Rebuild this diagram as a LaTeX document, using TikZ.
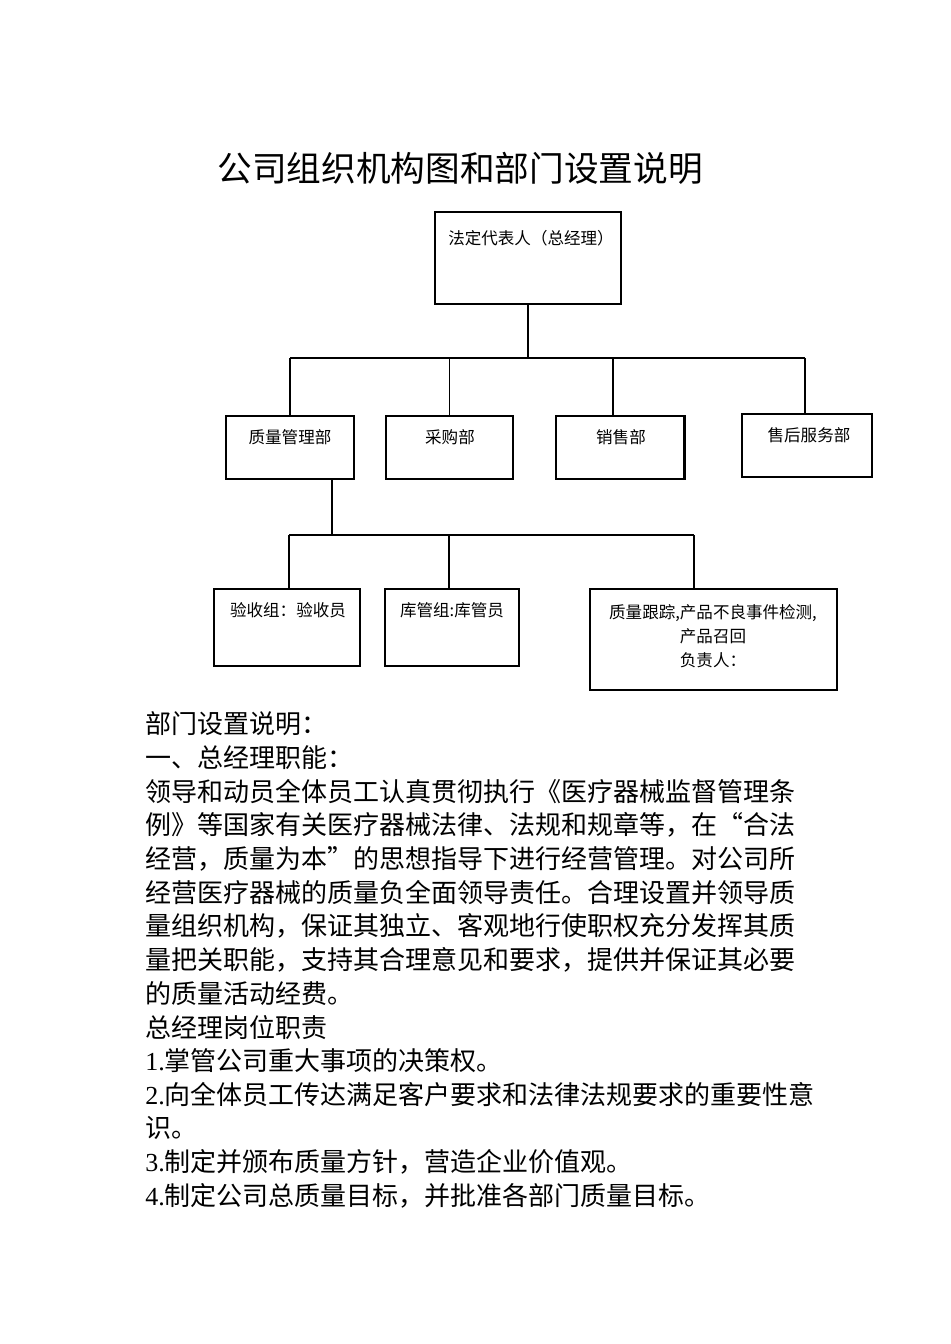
\documentclass[tikz,border=0pt]{standalone}
\usepackage{fontspec}
\setmainfont{Liberation Serif}
\newfontfamily\cjk{Noto Sans CJK SC}
\usepackage{tikz}
\usetikzlibrary{fit, positioning}

\begin{document}
\begin{tikzpicture}[x=0.75pt, y=-0.75pt,
    box/.style={draw, line width=1pt, inner sep=0pt},
    boxtext/.style={font=\cjk\fontsize{12.4}{18}\selectfont, align=center, inner sep=0pt},
    body/.style={anchor=west, font=\cjk\fontsize{19.5}{25}\selectfont, inner sep=0pt},
    link/.style={line width=1pt}]
    \useasboundingbox (0,0) rectangle (950,1344);

    % Title
    \node[font=\cjk\fontsize{26}{30}\selectfont, inner sep=0pt] (title) at (460,168) {公司组织机构图和部门设置说明};

    % General manager
    \node[box, fit={(435,212) (621,304)}] (ceo) {};
    \node[boxtext] (ceo-t) at (531,238) {法定代表人（总经理）};

    % Departments
    \node[box, fit={(226,416) (354,479)}] (qa) {};
    \node[box, fit={(386,416) (513,479)}] (buy) {};
    \node[box, fit={(556,416) (684,479)}] (sales) {};
    \node[box, fit={(742,414) (872,477)}] (service) {};
    \draw[line width=2.2pt] (sales.north east) -- (sales.south east);
    \node[boxtext] (qa-t) at (290,437) {质量管理部};
    \node[boxtext] (buy-t) at (450,437) {采购部};
    \node[boxtext] (sales-t) at (621,437) {销售部};
    \node[boxtext] (service-t) at (809,435) {售后服务部};

    % Department bus
    \coordinate (busL) at (290,358);
    \coordinate (busR) at (805,358);
    \coordinate (salesIn) at (613,358);
    \draw[link] (busL) -- (busR);
    \draw[link] (ceo.south) -- (ceo.south |- busL);
    \draw[link] (qa.north) -- (qa.north |- busL);
    \draw[link] (buy.north) -- (buy.north |- busL);
    \draw[link] (salesIn) -- (salesIn |- sales.north);
    \draw[link] (busR) -- (busR |- service.north);

    % Quality groups
    \node[box, fit={(214,589) (360,666)}] (recv) {};
    \node[box, fit={(385,589) (519,666)}] (store) {};
    \node[box, fit={(590,589) (837,690)}] (track) {};
    \node[boxtext] (recv-t) at (288,610) {验收组：验收员};
    \node[boxtext] (store-t) at (452,610) {库管组:库管员};
    \node[boxtext] (track-t) at (713,636) {质量跟踪,产品不良事件检测,\\产品召回\\负责人：};

    % Group bus
    \coordinate (sub) at (332,535);
    \coordinate (subL) at (289,535);
    \coordinate (subM) at (449,535);
    \coordinate (subR) at (694,535);
    \draw[link] (sub |- qa.south) -- (sub);
    \draw[link] (subL) -- (subR);
    \draw[link] (subL) -- (subL |- recv.north);
    \draw[link] (subM) -- (subM |- store.north);
    \draw[link] (subR) -- (subR |- track.north);

    % Description text
    \node[body] (line0) at (145,724) {部门设置说明：};
    \node[body] (line1) at (145,757.7) {一、总经理职能：};
    \node[body] (line2) at (145,791.4) {领导和动员全体员工认真贯彻执行《医疗器械监督管理条};
    \node[body] (line3) at (145,825.1) {例》等国家有关医疗器械法律、法规和规章等，在“合法};
    \node[body] (line4) at (145,858.8) {经营，质量为本”的思想指导下进行经营管理。对公司所};
    \node[body] (line5) at (145,892.5) {经营医疗器械的质量负全面领导责任。合理设置并领导质};
    \node[body] (line6) at (145,926.2) {量组织机构，保证其独立、客观地行使职权充分发挥其质};
    \node[body] (line7) at (145,959.9) {量把关职能，支持其合理意见和要求，提供并保证其必要};
    \node[body] (line8) at (145,993.6) {的质量活动经费。};
    \node[body] (line9) at (145,1027.3) {总经理岗位职责};
    \node[body] (line10) at (145,1061) {{\rmfamily 1.}掌管公司重大事项的决策权。};
    \node[body] (line11) at (145,1094.7) {{\rmfamily 2.}向全体员工传达满足客户要求和法律法规要求的重要性意};
    \node[body] (line12) at (145,1128.4) {识。};
    \node[body] (line13) at (145,1162.1) {{\rmfamily 3.}制定并颁布质量方针，营造企业价值观。};
    \node[body] (line14) at (145,1195.8) {{\rmfamily 4.}制定公司总质量目标，并批准各部门质量目标。};
\end{tikzpicture}
\end{document}
